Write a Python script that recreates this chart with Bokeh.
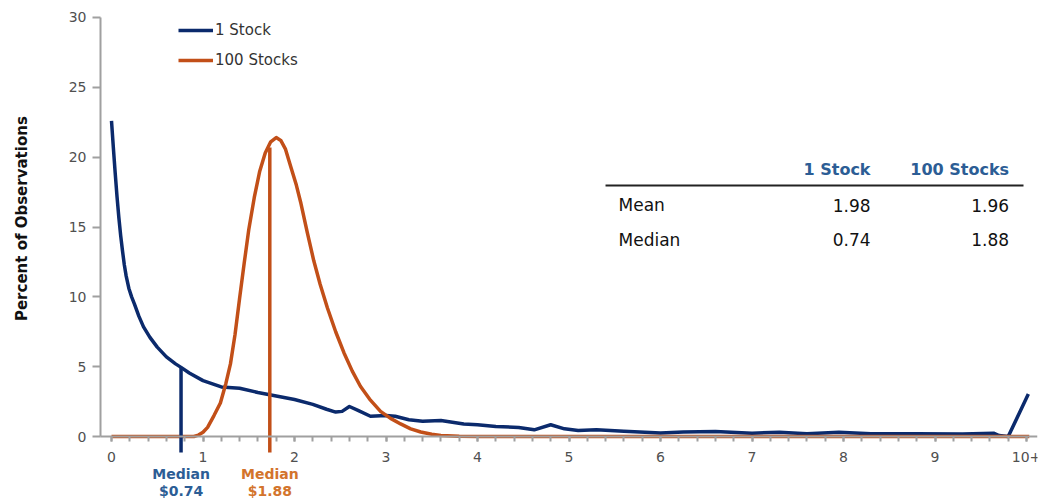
import math
from bokeh.plotting import figure
from bokeh.models import (FixedTicker, Legend, LegendItem, Range1d)
from bokeh.core.properties import value
from bokeh.embed import file_html
from bokeh.resources import INLINE

# ---------------- data ----------------
series_names = ["1 Stock", "100 Stocks"]
y_title = "Percent of Observations"

one_x = [0, 0.02, 0.04, 0.06, 0.08, 0.1, 0.12, 0.14, 0.16, 0.19, 0.22, 0.25, 0.3,
         0.35, 0.42, 0.5, 0.6, 0.7,
         0.76, 0.85, 1.0, 1.2, 1.4, 1.6, 1.8, 2.0, 2.2, 2.35, 2.45, 2.52, 2.6, 2.7,
         2.83, 3.0, 3.1, 3.25, 3.4, 3.6, 3.85, 4.0, 4.2, 4.45, 4.62, 4.8, 4.95, 5.1,
         5.3, 5.6, 6.0, 6.25, 6.6, 7.0, 7.3, 7.6, 7.95, 8.3, 8.8, 9.3, 9.64, 9.7,
         9.8, 10.02]
one_y = [22.6, 20.7, 18.9, 17.2, 15.7, 14.4, 13.3, 12.3, 11.5, 10.6, 10.0, 9.5, 8.6,
         7.85, 7.1, 6.4, 5.7, 5.2,
         4.95, 4.55, 4.0, 3.55, 3.45, 3.15, 2.9, 2.65, 2.3, 1.95, 1.75, 1.8, 2.15, 1.85,
         1.45, 1.5, 1.45, 1.2, 1.1, 1.14, 0.9, 0.85, 0.72, 0.65, 0.48, 0.84, 0.55, 0.43,
         0.48, 0.38, 0.25, 0.32, 0.36, 0.24, 0.31, 0.2, 0.3, 0.2, 0.19, 0.18, 0.24, 0.07,
         0.0, 3.05]

hund_x = [0, 0.5, 0.9, 0.95, 1.0, 1.05, 1.12, 1.19, 1.25, 1.3, 1.35, 1.4, 1.45, 1.5,
          1.56, 1.62, 1.68, 1.74, 1.8, 1.85, 1.9, 1.96, 2.02, 2.07, 2.14, 2.21, 2.28,
          2.36, 2.45, 2.54, 2.63, 2.72, 2.83, 2.94, 3.05, 3.16, 3.27, 3.38, 3.5, 3.6,
          3.8, 4.0, 10.03]
hund_y = [0, 0, 0, 0.1, 0.3, 0.65, 1.5, 2.4, 3.8, 5.2, 7.3, 9.9, 12.4, 14.8,
          17.1, 19.0, 20.3, 21.1, 21.4, 21.2, 20.6, 19.3, 18.0, 16.7, 14.6, 12.6, 10.9,
          9.2, 7.5, 6.0, 4.7, 3.6, 2.6, 1.8, 1.3, 0.9, 0.55, 0.32, 0.16, 0.08,
          0.02, 0, 0]

x_ticks = [0, 1, 2, 3, 4, 5, 6, 7, 8, 9, 10]
x_tick_labels = ["0", "1", "2", "3", "4", "5", "6", "7", "8", "9", "10+"]
y_ticks = [0, 5, 10, 15, 20, 25, 30]

stat_rows = ["Mean", "Median"]
one_stats = [1.98, 0.74]
hund_stats = [1.96, 1.88]

median_word = "Median"
median_labels = ["$0.74", "$1.88"]
median_line_x = [0.76, 1.73]
median_line_top = [4.95, 20.7]

# ---------------- style ----------------
BLUE = "#0b2a6c"
ORANGE = "#c24f18"
BLUE_TXT = "#2c5d95"
ORANGE_TXT = "#d3742c"
AXIS = "#a0a0a0"
FONT = "DejaVu Sans"
X_START = -0.1202
X_END = 10.12

p = figure(width=1044, height=502, output_backend="svg", toolbar_location=None,
           x_range=Range1d(-1.2131, X_END), y_range=Range1d(-4.725, 31.217),
           min_border_left=0, min_border_right=7, min_border_top=0,
           min_border_bottom=0)
p.outline_line_color = None
p.xgrid.visible = False
p.ygrid.visible = False
p.background_fill_color = "white"
p.border_fill_color = "white"

# x axis sits at y = 0
p.xaxis.fixed_location = 0
p.xaxis.bounds = (X_START, X_END)
p.xaxis.ticker = FixedTicker(ticks=x_ticks,
                             minor_ticks=[i * 0.2 for i in range(0, 51)])
p.xaxis.major_label_overrides = {t: l for t, l in zip(x_ticks, x_tick_labels)}
p.xaxis.axis_line_color = AXIS
p.xaxis.axis_line_width = 2
p.xaxis.major_tick_line_color = AXIS
p.xaxis.minor_tick_line_color = AXIS
p.xaxis.major_tick_line_width = 2
p.xaxis.minor_tick_line_width = 2
p.xaxis.major_tick_out = 5
p.xaxis.major_tick_in = 0
p.xaxis.minor_tick_out = 5
p.xaxis.minor_tick_in = 0
p.xaxis.major_label_standoff = 10
p.xaxis.major_label_text_font = FONT
p.xaxis.major_label_text_font_size = "14px"
p.xaxis.major_label_text_color = "#505050"

# y axis sits at the left edge of the data area
p.yaxis.fixed_location = X_START
p.yaxis.bounds = (0, 30)
p.yaxis.ticker = FixedTicker(ticks=y_ticks, minor_ticks=[])
p.yaxis.axis_line_color = AXIS
p.yaxis.axis_line_width = 2
p.yaxis.major_tick_line_color = AXIS
p.yaxis.major_tick_line_width = 2
p.yaxis.major_tick_out = 8
p.yaxis.major_tick_in = 0
p.yaxis.minor_tick_line_color = None
p.yaxis.major_label_standoff = 6
p.yaxis.major_label_text_font = FONT
p.yaxis.major_label_text_font_size = "14px"
p.yaxis.major_label_text_color = "#505050"

# y title
p.text(x=[-0.973], y=[15.6], text=[y_title], angle=math.pi / 2,
       text_align="center", text_baseline="middle", text_font=value(FONT),
       text_font_size="15px", text_font_style="bold", text_color="#111111")

# lines
r_one = p.line(one_x, one_y, line_color=BLUE, line_width=3.5, line_join="round")
r_hund = p.line(hund_x, hund_y, line_color=ORANGE, line_width=3.5, line_join="round")

# median lines (extend slightly below the axis)
p.segment(x0=median_line_x, y0=[-1.15] * 2, x1=median_line_x, y1=median_line_top,
          line_color=[BLUE, ORANGE], line_width=3.5)

# median labels under the axis
p.text(x=median_line_x, y=[-2.65] * 2, text=[median_word] * 2,
       text_align="center", text_baseline="middle", text_font=value(FONT),
       text_font_size="14px", text_font_style="bold",
       text_color=[BLUE_TXT, ORANGE_TXT])
p.text(x=median_line_x, y=[-3.87] * 2, text=median_labels,
       text_align="center", text_baseline="middle", text_font=value(FONT),
       text_font_size="14px", text_font_style="bold",
       text_color=[BLUE_TXT, ORANGE_TXT])

# legend
legend = Legend(items=[LegendItem(label=series_names[0], renderers=[r_one]),
                       LegendItem(label=series_names[1], renderers=[r_hund])],
                location=(178, 432), orientation="vertical",
                glyph_width=35, glyph_height=20, spacing=10, padding=0, margin=0,
                label_standoff=2, label_text_font=FONT, label_text_font_size="15px",
                label_text_color="#333333", border_line_alpha=0,
                background_fill_alpha=0)
p.add_layout(legend)

# summary table
TX_LABEL = 5.541
TX_ONE = 8.295
TX_HUND = 9.81
TY_HEAD = 19.11
TY_RULE = 17.97
TY_ROWS = [16.54, 14.10]

p.text(x=[TX_ONE, TX_HUND], y=[TY_HEAD, TY_HEAD], text=series_names,
       text_align="right", text_baseline="middle", text_font=value(FONT),
       text_font_size="16px", text_font_style="bold", text_color=BLUE_TXT)
p.segment(x0=[5.399], y0=[TY_RULE], x1=[9.967], y1=[TY_RULE],
          line_color="#222222", line_width=2)
p.text(x=[TX_LABEL] * len(stat_rows), y=TY_ROWS, text=stat_rows,
       text_align="left", text_baseline="middle", text_font=value(FONT),
       text_font_size="17px", text_color="#111111")
p.text(x=[TX_ONE] * len(one_stats), y=TY_ROWS, text=[f"{v:.2f}" for v in one_stats],
       text_align="right", text_baseline="middle", text_font=value(FONT),
       text_font_size="17px", text_color="#111111")
p.text(x=[TX_HUND] * len(hund_stats), y=TY_ROWS, text=[f"{v:.2f}" for v in hund_stats],
       text_align="right", text_baseline="middle", text_font=value(FONT),
       text_font_size="17px", text_color="#111111")

open("out.html", "w").write(file_html(p, INLINE))
